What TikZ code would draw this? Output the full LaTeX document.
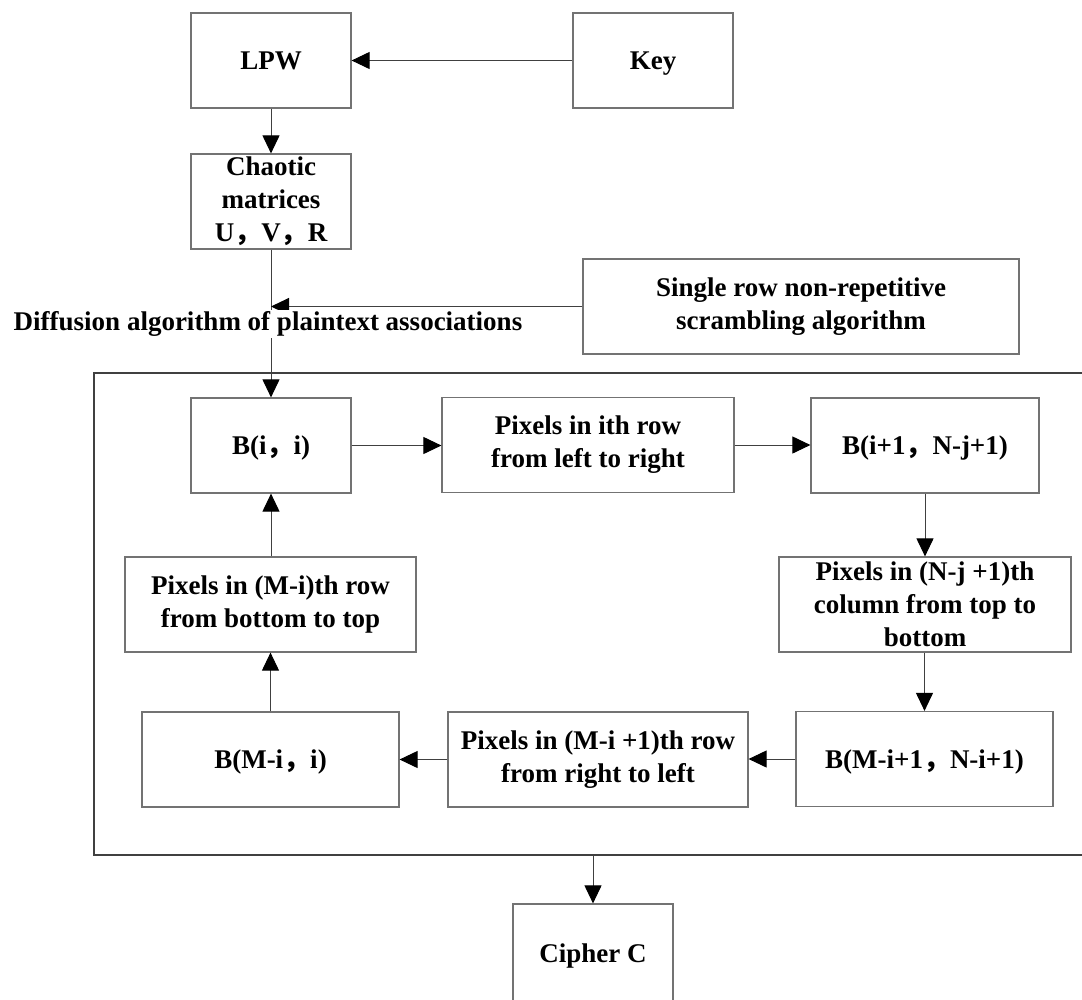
\documentclass[tikz,border=0pt]{standalone}
\usepackage{fontspec}
\setmainfont{Liberation Serif}
\newfontfamily\cjkfont{Noto Sans CJK SC}
\usetikzlibrary{arrows.meta}
% full-width comma used in the index pairs
\newcommand{\fwc}{{\cjkfont ，}}

\begin{document}
\begin{tikzpicture}[x=1pt,y=-1pt,
  box/.style={draw=black!55, line width=1.2pt, minimum height=95pt,
    align=center, inner sep=0pt,
    font=\fontsize{27}{33}\selectfont\bfseries},
  oneline/.style={box, text depth=0pt},
  conn/.style={draw=black!75, line width=1pt,
    -{Triangle[length=18pt,width=17pt,color=black]}},
  frame/.style={draw=black!75, line width=1.2pt}
]
\useasboundingbox (0,0) rectangle (1082,999);
\clip (0,0) rectangle (1082,999);

% surrounding frame of the scrambling loop (runs past the right edge)
\node[frame, minimum width=1006pt, minimum height=482pt] (loop) at (597,614) {};

% key schedule
\node[oneline, minimum width=160pt] (lpw) at (271,60.5) {LPW};
\node[oneline, minimum width=160pt] (key) at (653,60.5) {Key};
\node[box, minimum width=160pt] (chaos) at (271,201.5) {Chaotic\\matrices\\U\fwc V\fwc R};
\node[box, minimum width=436pt] (single) at (801,306.5) {Single row non-repetitive\\scrambling algorithm};

% scrambling loop
\node[oneline, minimum width=160pt] (bii) at (271,445.5) {B(i\fwc i)};
\node[box, minimum width=292pt] (rowlr) at (588,445) {Pixels in ith row\\from left to right};
\node[oneline, minimum width=228pt] (bij) at (925,445.5) {B(i+1\fwc N-j+1)};
\node[box, minimum width=292pt] (coltb) at (925,604.5) {Pixels in (N-j +1)th\\column from top to\\bottom};
\node[oneline, minimum width=257pt] (bmn) at (924.5,759) {B(M-i+1\fwc N-i+1)};
\node[box, minimum width=300pt] (rowrl) at (598,759.5) {Pixels in (M-i +1)th row\\from right to left};
\node[oneline, minimum width=257pt] (bmi) at (270.5,759.5) {B(M-i\fwc i)};
\node[box, minimum width=291pt] (rowbt) at (270.5,604.5) {Pixels in (M-i)th row\\from bottom to top};

% output
\node[oneline, minimum width=160pt, minimum height=98pt] (cipher) at (593,953) {Cipher C};

% connectors
\draw[conn] (key.west) -- (lpw.east);
\draw[conn] (lpw.south) -- (chaos.north);
\draw[conn] (chaos.south) -- (bii.north);
\coordinate (merge) at (chaos.south |- single.west);
\draw[conn] (single.west) -- (merge);
\draw[conn] (bii.east) -- (rowlr.west |- bii.east);
\draw[conn] (rowlr.east) -- (bij.west |- rowlr.east);
\draw[conn] (bij.south) -- (coltb.north -| bij.south);
\draw[conn] (coltb.south -| bmn.north) -- (bmn.north);
\draw[conn] (bmn.west) -- (rowrl.east |- bmn.west);
\draw[conn] (rowrl.west) -- (bmi.east |- rowrl.west);
\draw[conn] (bmi.north) -- (rowbt.south -| bmi.north);
\draw[conn] (rowbt.north -| bii.south) -- (bii.south);
\draw[conn] (loop.south -| cipher.north) -- (cipher.north);

% label laid over the vertical connector
\node[fill=white, inner xsep=2pt, inner ysep=2pt,
  font=\fontsize{27}{33}\selectfont\bfseries] (diff) at (268,324)
  {Diffusion algorithm of plaintext associations};
\end{tikzpicture}
\end{document}
